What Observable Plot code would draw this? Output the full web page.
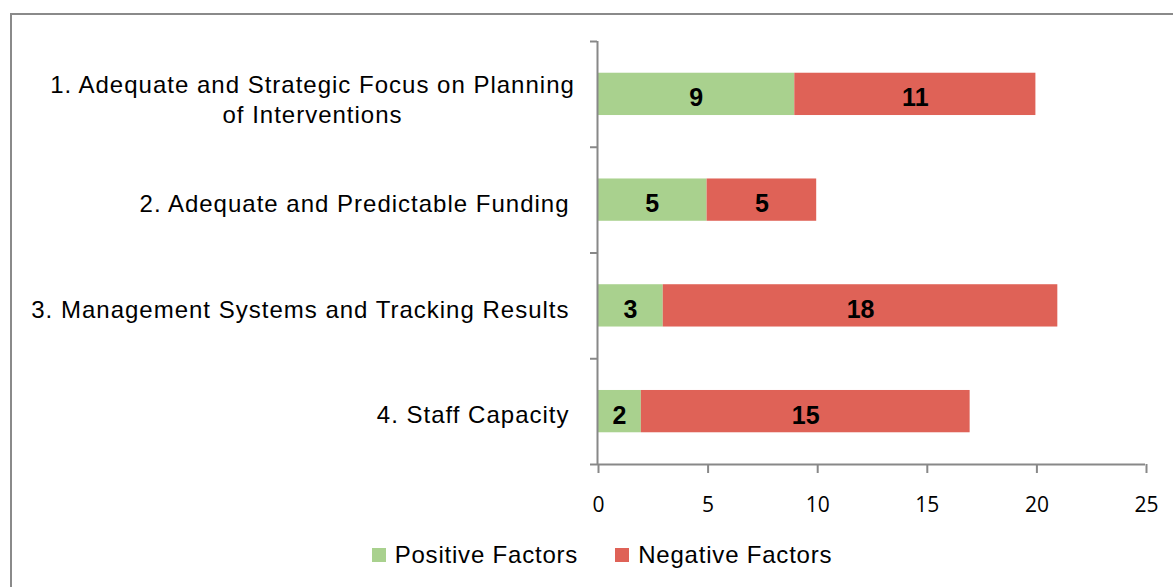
<!DOCTYPE html>
<html>
<head>
<meta charset="utf-8">
<script src="https://cdn.jsdelivr.net/npm/d3@7"></script>
<script src="https://cdn.jsdelivr.net/npm/@observablehq/plot@0.6"></script>
<style>
  html, body { margin: 0; padding: 0; background: #fff; overflow: hidden; width: 1173px; height: 587px; }
  #frame { position: absolute; left: 10px; top: 13px; width: 1184px; height: 600px; border: 2px solid #8a8a8a; box-sizing: border-box; }
  #chart { position: absolute; left: 0; top: 0; }
  #legend { position: absolute; left: 10px; top: 541px; width: 1184px; display: flex; justify-content: center; align-items: center;
            font-family: "Liberation Sans", Arial, sans-serif; font-size: 24px; letter-spacing: 0.8px; color: #000; }
  .item { display: flex; align-items: center; }
  .item + .item { margin-left: 37px; }
  .sw { width: 14px; height: 14px; margin-right: 9px; }
</style>
</head>
<body>
<div id="frame"></div>
<div id="chart"></div>
<div id="legend"></div>
<script>
const categories = [
  "1. Adequate and Strategic Focus on Planning\nof Interventions",
  "2. Adequate and Predictable Funding",
  "3. Management Systems and Tracking Results",
  "4. Staff Capacity"
];
const positive = [9, 5, 3, 2];
const negative = [11, 5, 18, 15];
const series = ["Positive Factors", "Negative Factors"];
const colors = ["#A9D18E", "#DF6257"];
const xTicks = [0, 5, 10, 15, 20, 25];
const xDomain = [0, 25];

const axisColor = "#888888";
const n = categories.length;
const yTicks = d3.range(n + 1);

const rows = categories.flatMap((c, i) => {
  const p = positive[i], q = negative[i];
  return [
    {cat: c, i, series: series[0], value: p, x1: 0, x2: p},
    {cat: c, i, series: series[1], value: q, x1: p, x2: p + q}
  ];
});
const labels = categories.map((c, i) => ({cat: c, i}));

const chart = Plot.plot({
  width: 1173,
  height: 520,
  marginLeft: 597,
  marginRight: 28,
  marginTop: 41,
  marginBottom: 56,
  style: {background: "transparent", overflow: "visible", fontFamily: "Open Sans", fontSize: "21px", color: "#000"},
  x: {domain: xDomain},
  y: {domain: [0, n], reverse: true},
  color: {domain: series, range: colors},
  marks: [
    Plot.rect(rows, {x1: "x1", x2: "x2", y1: d => d.i + 0.3, y2: d => d.i + 0.7, fill: "series"}),
    Plot.text(rows, {x: d => (d.x1 + d.x2) / 2, y: d => d.i + 0.5, text: "value",
      fontFamily: "Liberation Sans", fontWeight: "bold", fontSize: 25, fill: "#000", dy: 4}),
    Plot.ruleX([0], {stroke: axisColor, strokeWidth: 2}),
    Plot.ruleY([n], {stroke: axisColor, strokeWidth: 2}),
    Plot.axisY({ticks: yTicks, tickSize: 7, tickFormat: () => "", label: null, stroke: axisColor, strokeWidth: 2}),
    Plot.axisX({ticks: xTicks, tickSize: 9, tickPadding: 24, label: null, stroke: axisColor, strokeWidth: 2,
      fontFamily: "Open Sans", fontSize: 21, fill: "#000", dx: 1}),
    Plot.text(labels.filter(d => !d.cat.includes("\n")), {x: 0, y: d => d.i + 0.5, text: "cat", textAnchor: "end",
      dx: -28, dy: 4, fontFamily: "Liberation Sans", fontSize: 24, fill: "#000"}),
    Plot.text(labels.filter(d => d.cat.includes("\n")), {x: 0, y: d => d.i + 0.5, text: "cat", textAnchor: "middle",
      dx: -285, dy: 4, lineHeight: 1.25, fontFamily: "Liberation Sans", fontSize: 24, fill: "#000"})
  ]
});
document.getElementById("chart").appendChild(chart);

// Excel-like letter spacing on the category labels
const labelSet = new Set(categories.map(c => c.replace(/\n/g, "")));
d3.select(chart).selectAll("text")
  .filter(function() { return labelSet.has(this.textContent); })
  .style("letter-spacing", "1px");

const legend = document.getElementById("legend");
series.forEach((s, k) => {
  const item = document.createElement("div");
  item.className = "item";
  const sw = document.createElement("div");
  sw.className = "sw";
  sw.style.background = colors[k];
  const t = document.createElement("span");
  t.textContent = s;
  item.appendChild(sw);
  item.appendChild(t);
  legend.appendChild(item);
});
</script>
</body>
</html>
